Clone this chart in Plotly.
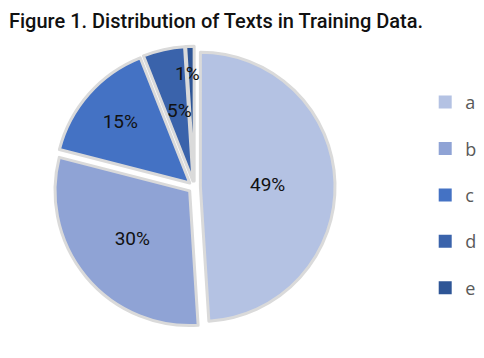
import plotly.graph_objects as go

categories = ["a", "b", "c", "d", "e"]
values = [49, 30, 15, 5, 1]
colors = ["#B4C2E3", "#8FA3D5", "#4472C4", "#3A63AB", "#2E5596"]
title_text = "Figure 1. Distribution of Texts in Training Data."

total = sum(values)
pct = [f"{v / total * 100:.0f}%" for v in values]
# slices too thin for inside text get a separate label
small = [v / total < 0.1 for v in values]
slice_text = ["" if s else p for s, p in zip(small, pct)]

fig = go.Figure()
fig.add_trace(go.Pie(
    labels=categories,
    values=values,
    sort=False,
    direction="clockwise",
    rotation=0,
    pull=[0.045] * len(values),
    marker=dict(colors=colors, line=dict(color="#DADADA", width=3)),
    text=slice_text,
    textinfo="text",
    textposition="inside",
    insidetextorientation="horizontal",
    textfont=dict(family="Roboto", size=19, color="#111111"),
    domain=dict(x=[0.08, 0.69], y=[0.107, 0.893]),
    showlegend=False,
    hoverinfo="label+percent",
))

small_pos = {"d": (0.354, 0.751), "e": (0.370, 0.855)}
for cat, s, p in zip(categories, small, pct):
    if s:
        fig.add_annotation(x=small_pos[cat][0], y=small_pos[cat][1], xref="paper", yref="paper",
                           text=p, showarrow=False,
                           font=dict(family="Roboto", size=19, color="#111111"))

# chart title
fig.add_annotation(x=0.0, y=1.0, xref="paper", yref="paper", xanchor="left", yanchor="top",
                   text=title_text, showarrow=False, yshift=0, borderpad=0,
                   font=dict(family="Roboto", size=20, color="#111111", weight=500))

for cat, col in zip(categories, colors):
    fig.add_trace(go.Scatter(
        x=[None], y=[None], mode="markers", name=cat,
        legendgroup=cat,
        marker=dict(symbol="square", size=13, color=col),
    ))

fig.update_layout(
    width=484, height=358,
    paper_bgcolor="white", plot_bgcolor="white",
    margin=dict(l=0, r=0, t=0, b=0),
    xaxis=dict(visible=False), yaxis=dict(visible=False),
    legend=dict(x=0.862, y=0.788, xanchor="left", yanchor="top",
                font=dict(family="Open Sans", size=18, color="#595959"),
                tracegroupgap=20, itemwidth=30, bgcolor="rgba(0,0,0,0)"),
)

fig.write_html("out.html")
